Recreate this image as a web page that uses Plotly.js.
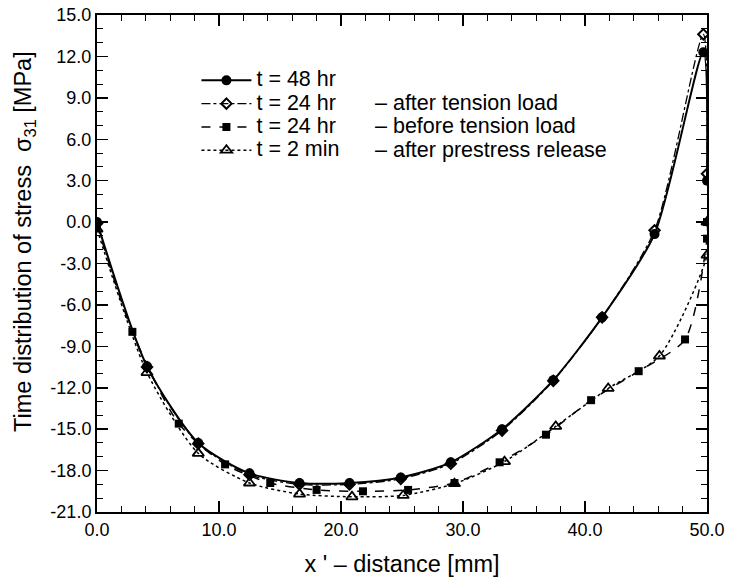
<!DOCTYPE html>
<html>
<head>
<meta charset="utf-8">
<script src="https://cdn.plot.ly/plotly-3.0.1.min.js"></script>
<style>
html,body{margin:0;padding:0;background:#fff;}
#chart{width:732px;height:581px;}
</style>
</head>
<body>
<div id="chart"></div>
<script>
// t = 48 hr (filled circles, solid)
const x48 = [0.0, 4.1, 8.3, 12.5, 16.6, 20.7, 24.9, 29.0, 33.2, 37.4, 41.4, 45.7, 49.7, 50.0];
const y48 = [0.0, -10.45, -16.0, -18.2, -18.9, -18.9, -18.5, -17.4, -15.0, -11.45, -6.9, -0.87, 12.3, 3.0];
// t = 24 hr - after tension load (open diamonds, dash-dot)
const x24a = [0.0, 4.1, 8.3, 12.5, 16.6, 20.7, 24.9, 29.0, 33.2, 37.4, 41.4, 45.7, 49.7, 50.0];
const y24a = [-0.1, -10.5, -16.05, -18.3, -19.0, -19.0, -18.6, -17.5, -15.1, -11.5, -6.9, -0.6, 13.6, 3.5];
// t = 24 hr - before tension load (filled squares, dashed)
const x24b = [0.0, 2.9, 6.7, 10.5, 14.2, 18.0, 21.8, 25.5, 29.3, 33.0, 36.8, 40.5, 44.4, 48.2, 50.0, 50.0];
const y24b = [-0.2, -7.95, -14.6, -17.55, -18.9, -19.4, -19.5, -19.4, -18.9, -17.4, -15.4, -12.9, -10.8, -8.5, -1.2, 0.0];
// t = 2 min - after prestress release (open triangles, dotted)
const x2m = [0.0, 4.1, 8.3, 12.5, 16.6, 20.9, 25.1, 29.3, 33.4, 37.6, 41.9, 46.1, 50.0, 50.0];
const y2m = [-0.5, -10.9, -16.75, -18.9, -19.7, -19.9, -19.8, -18.95, -17.35, -14.8, -12.05, -9.7, -2.4, 0.0];

const legendNames = ["t = 48 hr", "t = 24 hr", "t = 24 hr", "t = 2 min"];
const legendNotes = ["", "\u2013 after tension load", "\u2013 before tension load", "\u2013 after prestress release"];

const xTickVals = [0, 10, 20, 30, 40, 50];
const xTickText = ["0.0", "10.0", "20.0", "30.0", "40.0", "50.0"];
const yTickVals = [15, 12, 9, 6, 3, 0, -3, -6, -9, -12, -15, -18, -21];
const yTickText = ["15.0", "12.0", "9.0", "6.0", "3.0", "0.0", "-3.0", "-6.0", "-9.0", "-12.0", "-15.0", "-18.0", "-21.0"];

const FONT = "Liberation Sans, Arial, sans-serif";
const LEG_TXT = 21.5;
const wrapName = s => '<span style="font-size:' + LEG_TXT + 'px">' + s + '</span>';

const traces = [
  {x: x48, y: y48, name: wrapName(legendNames[0]), mode: "lines+markers",
   line: {color: "#000", width: 2, dash: "solid", shape: "spline", smoothing: 0.7},
   marker: {symbol: "circle", size: 10, color: "#000"}},
  {x: x24a, y: y24a, name: wrapName(legendNames[1]), mode: "lines+markers",
   line: {color: "#000", width: 1.3, dash: "dashdot", shape: "spline", smoothing: 0.7},
   marker: {symbol: "diamond-open", size: 8, color: "#000", line: {width: 2, color: "#000"}}},
  {x: x24b, y: y24b, name: wrapName(legendNames[2]), mode: "lines+markers",
   line: {color: "#000", width: 1.5, dash: "dash", shape: "spline", smoothing: 0.7},
   marker: {symbol: "square", size: 8, color: "#000"}},
  {x: x2m, y: y2m, name: wrapName(legendNames[3]), mode: "lines+markers",
   line: {color: "#000", width: 1.5, dash: "dot", shape: "spline", smoothing: 0.7},
   marker: {symbol: "triangle-up-open", size: 10, color: "#000", line: {width: 1.8, color: "#000"}}}
];

const legendRowY = [0.869, 0.822, 0.776, 0.729];
const annotations = [];
for (let i = 1; i < legendNotes.length; i++) {
  annotations.push({xref: "paper", yref: "paper", x: 0.4525, y: legendRowY[i], xanchor: "left", yanchor: "middle",
    text: legendNotes[i], showarrow: false, font: {family: FONT, size: LEG_TXT, color: "#000"}});
}
annotations.push({xref: "paper", yref: "paper", x: -0.12, y: 0.545, xanchor: "center", yanchor: "middle",
  textangle: -90, showarrow: false,
  text: "Time distribution of stress &nbsp;\u03c3<sub>31</sub> [MPa]",
  font: {family: FONT, size: 23.5, color: "#000"}});

const layout = {
  width: 732, height: 581,
  margin: {l: 97, r: 25, t: 15, b: 69, pad: 0},
  paper_bgcolor: "#fff", plot_bgcolor: "#fff",
  font: {family: FONT, color: "#000"},
  showlegend: true,
  legend: {x: 0.163, y: 0.902, xanchor: "left", yanchor: "top", bgcolor: "rgba(0,0,0,0)",
    font: {family: FONT, size: 15.6, color: "#000"}, tracegroupgap: 0, itemwidth: 50},
  xaxis: {range: [0, 50], tickvals: xTickVals, ticktext: xTickText,
    showgrid: false, zeroline: false, showline: true, linecolor: "#000", linewidth: 2, mirror: "ticks",
    ticks: "inside", ticklen: 11, tickwidth: 1.5, tickcolor: "#000",
    minor: {dtick: 2, ticks: "inside", ticklen: 6, tickwidth: 1, tickcolor: "#000", showgrid: false},
    tickfont: {family: FONT, size: 18, color: "#000"},
    title: {text: "x ' \u2013 distance [mm]", font: {family: FONT, size: 23.5, color: "#000"}, standoff: 17}},
  yaxis: {range: [-21, 15], tickvals: yTickVals, ticktext: yTickText,
    showgrid: false, zeroline: false, showline: true, linecolor: "#000", linewidth: 2, mirror: "ticks",
    ticks: "inside", ticklen: 11, tickwidth: 1.5, tickcolor: "#000",
    minor: {dtick: 1, ticks: "inside", ticklen: 6, tickwidth: 1, tickcolor: "#000", showgrid: false},
    tickfont: {family: FONT, size: 18, color: "#000"}},
  annotations: annotations
};

Plotly.newPlot("chart", traces, layout, {displayModeBar: false, staticPlot: true});
</script>
</body>
</html>
